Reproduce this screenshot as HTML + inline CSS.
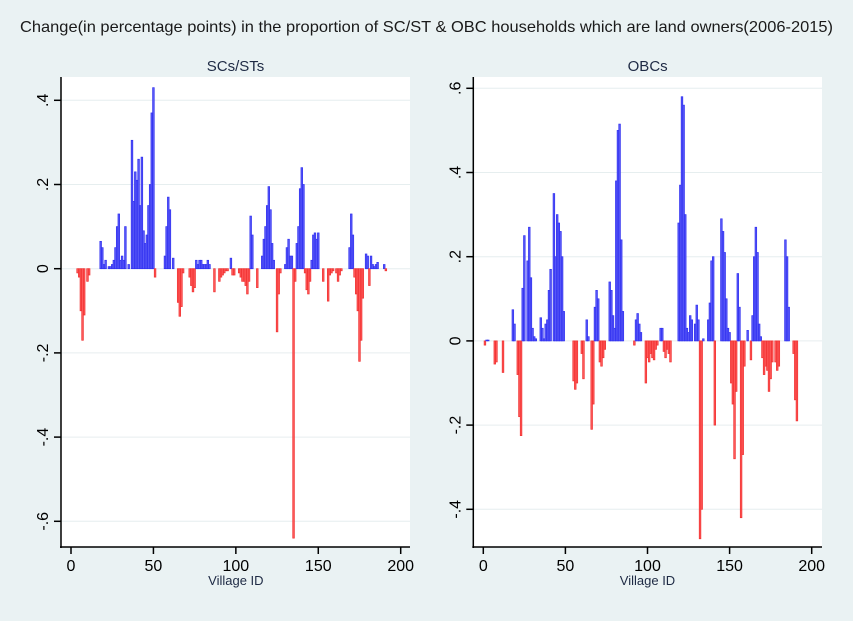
<!DOCTYPE html>
<html><head><meta charset="utf-8"><style>
body{margin:0;background:#eaf2f3;}
svg{display:block;font-family:"Liberation Sans",Arial,sans-serif;}
</style></head><body>
<svg id="chart" width="853" height="621">
<rect width="853" height="621" fill="#eaf2f3"/>
<text x="20" y="32" font-size="16" textLength="813" lengthAdjust="spacingAndGlyphs" fill="#1a1a1a">Change(in percentage points) in the proportion of SC/ST &amp; OBC households which are land owners(2006-2015)</text>
<g id="left"></g>
<g id="right"></g>
</svg>
<script>
const scstIds  = [4,5,6,7,8,10,11,18,19,20,21,23,24,25,26,27,28,29,30,31,32,33,35,37,38,39,40,41,42,43,44,45,46,47,48,49,50,51,57,58,59,60,62,65,66,67,68,72,73,74,75,76,77,78,79,80,81,82,83,84,87,90,91,92,93,94,95,97,98,99,102,103,104,105,106,107,108,109,110,113,116,117,118,119,120,121,122,123,125,126,127,130,131,132,133,134,135,136,137,138,139,140,141,142,143,144,145,146,147,148,149,150,153,156,157,158,159,161,162,163,164,169,170,171,172,173,174,175,176,177,179,180,181,182,183,184,185,186,190,191];
const scstVals = [-0.01,-0.02,-0.1,-0.17,-0.11,-0.03,-0.015,0.065,0.05,0.01,0.02,0.005,0.005,0.01,0.02,0.05,0.1,0.13,0.02,0.03,0.02,0.1,0.01,0.305,0.16,0.23,0.21,0.26,0.15,0.265,0.09,0.06,0.08,0.15,0.2,0.37,0.43,-0.02,0.03,0.1,0.17,0.14,0.025,-0.08,-0.113,-0.09,-0.01,-0.02,-0.04,-0.055,-0.045,0.02,0.01,0.02,0.02,0.01,0.01,0.01,0.02,0.01,-0.055,-0.03,-0.02,-0.015,-0.01,-0.005,-0.005,0.025,-0.015,-0.015,-0.01,-0.02,-0.03,-0.03,-0.04,-0.06,-0.03,0.125,0.08,-0.045,0.03,0.07,0.1,0.15,0.195,0.14,0.06,0.02,-0.15,-0.06,-0.01,0.01,0.05,0.07,0.03,0.03,-0.64,-0.03,0.06,0.1,0.19,0.24,0.2,-0.01,-0.05,-0.06,-0.03,0.02,0.08,0.085,0.07,0.085,-0.03,-0.077,-0.015,-0.01,-0.005,-0.01,-0.03,-0.015,-0.005,0.05,0.13,0.08,-0.02,-0.06,-0.1,-0.22,-0.17,-0.07,0.035,0.03,-0.04,0.03,0.01,0.005,0.01,0.015,0.01,-0.005,-0.04];
const obcIds  = [1,2,3,7,8,12,18,19,21,22,23,24,25,27,28,29,30,31,32,35,36,37,38,39,40,41,43,44,45,46,47,48,49,55,56,57,60,61,63,64,66,67,68,69,70,71,72,73,74,77,78,79,80,81,82,83,84,85,92,93,94,95,96,99,100,101,102,103,104,105,106,108,109,110,111,112,113,114,119,120,121,122,123,124,125,126,127,129,130,131,132,133,134,137,138,139,140,141,145,146,147,148,149,150,151,152,153,154,155,156,157,158,159,161,163,164,165,166,167,168,169,170,171,172,173,174,175,176,178,179,180,184,185,186,189,190,191];
const obcVals = [-0.01,0.002,0.002,-0.055,-0.05,-0.075,0.074,0.04,-0.08,-0.18,-0.225,0.125,0.25,0.19,0.27,0.15,0.03,0.01,0.005,0.055,0.03,0.005,0.04,0.05,0.12,0.17,0.35,0.2,0.3,0.28,0.26,0.2,0.07,-0.095,-0.115,-0.1,-0.03,-0.09,0.05,0.01,-0.21,-0.15,0.08,0.12,0.1,-0.05,-0.06,-0.04,-0.02,0.14,0.12,0.06,0.03,0.38,0.5,0.515,0.24,0.07,-0.01,0.05,0.065,0.04,0.02,-0.1,-0.04,-0.05,-0.03,-0.04,-0.045,-0.02,-0.01,0.03,0.03,-0.025,-0.04,-0.02,-0.03,-0.05,0.28,0.37,0.58,0.56,0.3,0.03,0.02,0.06,0.05,0.04,0.085,0.05,-0.47,-0.4,0.005,0.05,0.09,0.19,0.2,-0.2,0.29,0.26,0.21,0.1,0.03,0.02,-0.1,-0.15,-0.28,-0.12,0.16,0.08,-0.42,-0.27,-0.06,0.025,-0.045,0.06,0.2,0.27,0.21,0.04,0.01,-0.04,-0.08,-0.06,-0.07,-0.12,-0.09,-0.05,-0.05,-0.07,-0.06,0.24,0.2,0.08,-0.03,-0.14,-0.19];
const xTicks = [0,50,100,150,200];
const scstYTicks = [0.4,0.2,0,-0.2,-0.4,-0.6];
const scstYLabels = [".4",".2","0","-.2","-.4","-.6"];
const obcYTicks = [0.6,0.4,0.2,0,-0.2,-0.4];
const obcYLabels = [".6",".4",".2","0","-.2","-.4"];
const NS="http://www.w3.org/2000/svg";
function mk(parent,tag,attrs,txt){const e=document.createElementNS(NS,tag);for(const k in attrs)e.setAttribute(k,attrs[k]);if(txt!==undefined)e.textContent=txt;parent.appendChild(e);return e;}
function panel(g,o,ids,vals,yt,yl,title){
  const X=v=>o.x0+(v-0)*(o.x200-o.x0)/200;
  const Y=v=>o.y0-v*o.unit;
  const bg=mk(g,'rect',{x:o.left,y:o.top,width:o.right-o.left,height:o.bottom-o.top,fill:'#fff'});
  
  
  const t=mk(g,'text',{x:(o.left+o.right)/2,y:o.top-6,'text-anchor':'middle','font-size':15,fill:'#1e2a44'},title);
  
  
  yt.forEach((v,i)=>{
    const gl=mk(g,'line',{x1:o.left,x2:o.right,y1:Y(v),y2:Y(v),stroke:'#e6eeef','stroke-width':1});
    
    
    mk(g,'line',{x1:o.left-7,x2:o.left,y1:Y(v),y2:Y(v),stroke:'#000','stroke-width':1.5});
    const lb=mk(g,'text',{x:0,y:0,'text-anchor':'middle','font-size':16,fill:'#000',transform:`translate(${o.left-13},${Y(v)}) rotate(-90)`},yl[i]);
    
    
  });
  ids.forEach((id,i)=>{
    const v=vals[i];const pos=v>=0;
    const y1=Y(Math.max(v,0)),y2=Y(Math.min(v,0));
    const r=mk(g,'rect',{x:X(id-0.5),y:y1,width:X(1)-X(0),height:Math.max(y2-y1,0.5),fill:pos?'#5a5af8':'#ff5a5a',stroke:pos?'#3030f0':'#f03030','stroke-width':0.7});
    
    
  });
  mk(g,'line',{x1:o.left,x2:o.left,y1:o.top,y2:o.bottom+1,stroke:'#000','stroke-width':1.5});
  mk(g,'line',{x1:o.left-1,x2:o.right,y1:o.bottom,y2:o.bottom,stroke:'#000','stroke-width':1.5});
  xTicks.forEach(v=>{
    mk(g,'line',{x1:X(v),x2:X(v),y1:o.bottom,y2:o.bottom+7,stroke:'#000','stroke-width':1.5});
    const lb=mk(g,'text',{x:X(v),y:o.bottom+24,'text-anchor':'middle','font-size':16,fill:'#000'},String(v));
    
    
  });
  const xt=mk(g,'text',{x:X(100),y:o.bottom+38,'text-anchor':'middle','font-size':13,fill:'#1e2a44'},'Village ID');
  
  
}
panel(document.getElementById('left'),{left:61,right:410,top:77,bottom:547,x0:71,x200:400.7,y0:268.7,unit:421},scstIds,scstVals,scstYTicks,scstYLabels,'SCs/STs');
panel(document.getElementById('right'),{left:473.3,right:822,top:77,bottom:547,x0:483.3,x200:811.7,y0:340.9,unit:421},obcIds,obcVals,obcYTicks,obcYLabels,'OBCs');
</script>
</body></html>
